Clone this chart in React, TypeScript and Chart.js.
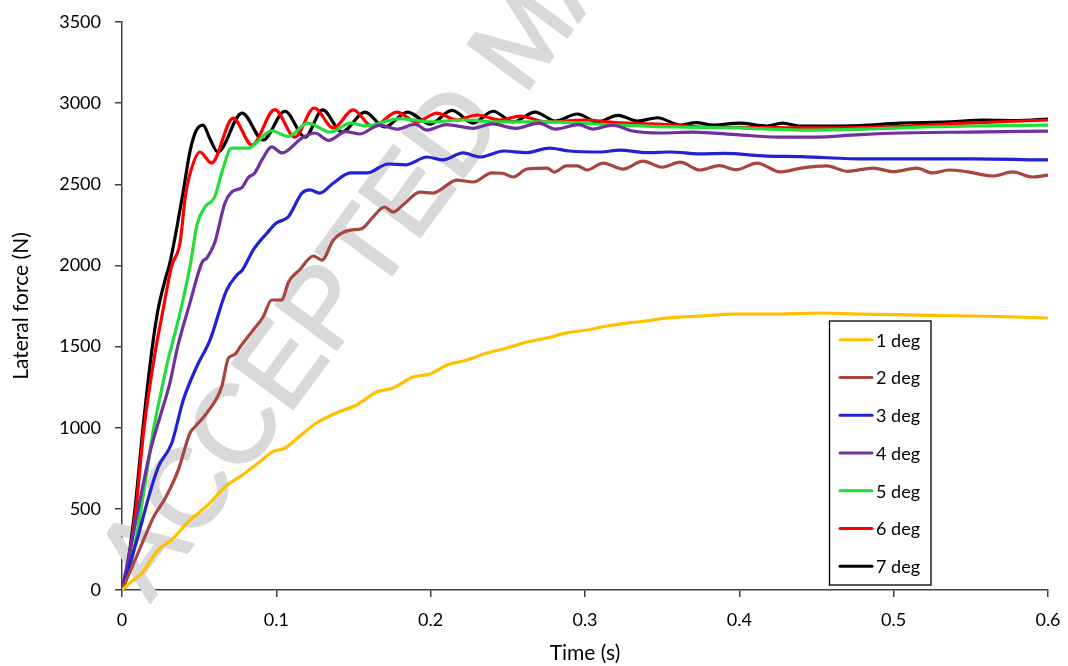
import React, { useEffect, useRef } from "react";
import { Chart, registerables } from "chart.js";

Chart.register(...registerables);

const seriesLabels = ["1 deg", "2 deg", "3 deg", "4 deg", "5 deg", "6 deg", "7 deg"];
const seriesColors = ["#FFC000", "#A9453F", "#2222D2", "#7030A0", "#22DD3A", "#FF0000", "#000000"];

const xTicks = [0, 0.1, 0.2, 0.3, 0.4, 0.5, 0.6];
const yTicks = [0, 500, 1000, 1500, 2000, 2500, 3000, 3500];

// 1 deg
const t1 = [0, 0.006, 0.013, 0.0233, 0.032, 0.0428, 0.0557, 0.0667, 0.078, 0.0907, 0.097, 0.1056, 0.1166, 0.126, 0.139, 0.152, 0.165, 0.1756, 0.1886, 0.1996, 0.2106, 0.2235, 0.2365, 0.2495, 0.2624, 0.2754, 0.288, 0.3013, 0.3143, 0.3272, 0.34, 0.353, 0.3745, 0.396, 0.42, 0.452, 0.48, 0.51, 0.538, 0.57, 0.6];
const f1 = [0, 50, 105, 246, 308, 419, 524, 635, 709, 801, 850, 875, 960, 1029, 1091, 1140, 1220, 1245, 1312, 1331, 1386, 1417, 1460, 1491, 1528, 1553, 1584, 1602, 1627, 1645, 1658, 1676, 1688, 1700, 1700, 1707, 1700, 1695, 1690, 1685, 1676];

// 2 deg
const t2 = [0, 0.0105, 0.0205, 0.028, 0.0365, 0.044, 0.0473, 0.055, 0.0646, 0.0689, 0.073, 0.0765, 0.085, 0.0914, 0.097, 0.1037, 0.1076, 0.1153, 0.124, 0.1296, 0.137, 0.148, 0.155, 0.1626, 0.17, 0.1756, 0.182, 0.193, 0.2015, 0.217, 0.2275, 0.2397, 0.2465, 0.2534, 0.2624, 0.2754, 0.28, 0.288, 0.295, 0.3013, 0.3117, 0.3246, 0.3376, 0.35, 0.3616, 0.3745, 0.387, 0.398, 0.4115, 0.4264, 0.44, 0.4568, 0.47, 0.4866, 0.5, 0.515, 0.525, 0.536, 0.547, 0.5644, 0.577, 0.59, 0.6];
const f2 = [0, 230, 450, 565, 740, 966, 1006, 1091, 1253, 1427, 1450, 1497, 1602, 1682, 1787, 1787, 1892, 1975, 2058, 2033, 2157, 2218, 2225, 2298, 2360, 2329, 2372, 2452, 2446, 2526, 2514, 2570, 2568, 2545, 2594, 2600, 2575, 2613, 2613, 2588, 2631, 2594, 2643, 2605, 2637, 2588, 2615, 2590, 2631, 2576, 2600, 2613, 2580, 2600, 2578, 2600, 2570, 2588, 2578, 2551, 2576, 2545, 2557];

// 3 deg
const t3 = [0, 0.0097, 0.018, 0.0236, 0.0322, 0.0397, 0.0484, 0.057, 0.0678, 0.0745, 0.078, 0.085, 0.094, 0.1, 0.1078, 0.1166, 0.1218, 0.128, 0.137, 0.148, 0.159, 0.1724, 0.184, 0.1976, 0.208, 0.221, 0.232, 0.2475, 0.262, 0.277, 0.29, 0.31, 0.3227, 0.34, 0.355, 0.3745, 0.39, 0.418, 0.44, 0.4827, 0.52, 0.55, 0.6];
const f3 = [0, 308, 597, 760, 904, 1171, 1376, 1540, 1848, 1941, 1972, 2095, 2200, 2261, 2300, 2446, 2465, 2446, 2508, 2570, 2570, 2625, 2620, 2668, 2650, 2693, 2668, 2705, 2695, 2723, 2705, 2699, 2711, 2695, 2699, 2687, 2690, 2674, 2670, 2656, 2656, 2656, 2650];

// 4 deg
const t4 = [0, 0.0117, 0.018, 0.0246, 0.031, 0.036, 0.044, 0.052, 0.055, 0.06, 0.0667, 0.071, 0.078, 0.0816, 0.086, 0.0907, 0.097, 0.1037, 0.1166, 0.125, 0.134, 0.145, 0.154, 0.167, 0.178, 0.19, 0.1976, 0.21, 0.2275, 0.24, 0.255, 0.27, 0.281, 0.296, 0.305, 0.318, 0.33, 0.35, 0.37, 0.4, 0.425, 0.45, 0.475, 0.504, 0.548, 0.6];
const f4 = [0, 555, 844, 1066, 1275, 1497, 1768, 2021, 2046, 2138, 2385, 2452, 2483, 2539, 2570, 2650, 2730, 2693, 2785, 2816, 2770, 2825, 2810, 2865, 2840, 2870, 2834, 2868, 2845, 2872, 2845, 2877, 2840, 2868, 2840, 2865, 2830, 2816, 2822, 2804, 2791, 2791, 2804, 2816, 2822, 2828];

// 5 deg
const t5 = [0, 0.004, 0.0097, 0.016, 0.02, 0.026, 0.0298, 0.032, 0.0376, 0.044, 0.0486, 0.0538, 0.06, 0.0646, 0.071, 0.0816, 0.097, 0.1076, 0.1205, 0.135, 0.148, 0.158, 0.18, 0.2, 0.22, 0.245, 0.275, 0.31, 0.36, 0.4, 0.44, 0.48, 0.52, 0.56, 0.6];
const f5 = [0, 100, 350, 720, 967, 1250, 1417, 1497, 1707, 1990, 2250, 2360, 2421, 2570, 2723, 2723, 2830, 2795, 2877, 2822, 2877, 2860, 2905, 2884, 2896, 2884, 2884, 2870, 2853, 2847, 2834, 2840, 2853, 2860, 2865];

// 6 deg
const t6 = [0, 0.004, 0.009, 0.0143, 0.0214, 0.0266, 0.032, 0.0376, 0.041, 0.0445, 0.0505, 0.058, 0.072, 0.0842, 0.099, 0.112, 0.1245, 0.137, 0.1497, 0.1626, 0.178, 0.191, 0.204, 0.217, 0.23, 0.245, 0.258, 0.275, 0.3, 0.32, 0.35, 0.375, 0.41, 0.44, 0.46, 0.5, 0.548, 0.6];
const f6 = [0, 150, 500, 1000, 1460, 1725, 1990, 2140, 2420, 2580, 2699, 2631, 2908, 2742, 2960, 2791, 2970, 2847, 2958, 2853, 2945, 2884, 2939, 2896, 2927, 2896, 2920, 2884, 2896, 2880, 2870, 2853, 2850, 2847, 2847, 2855, 2877, 2896];

// 7 deg
const t7 = [0, 0.003, 0.0084, 0.0136, 0.0194, 0.0233, 0.0279, 0.031, 0.0356, 0.0395, 0.044, 0.048, 0.0525, 0.057, 0.062, 0.0778, 0.0914, 0.1056, 0.1186, 0.13, 0.1425, 0.1575, 0.17, 0.185, 0.1996, 0.2138, 0.2275, 0.2404, 0.2534, 0.2676, 0.281, 0.295, 0.3078, 0.3214, 0.334, 0.347, 0.3616, 0.372, 0.383, 0.4, 0.418, 0.428, 0.439, 0.457, 0.478, 0.504, 0.536, 0.558, 0.58, 0.6];
const f7 = [0, 120, 500, 1000, 1480, 1725, 1910, 2015, 2237, 2446, 2700, 2830, 2865, 2780, 2699, 2939, 2773, 2950, 2791, 2958, 2822, 2945, 2853, 2945, 2871, 2955, 2877, 2950, 2884, 2945, 2890, 2933, 2884, 2925, 2890, 2910, 2865, 2880, 2865, 2877, 2859, 2877, 2859, 2859, 2862, 2877, 2884, 2896, 2893, 2902];

const seriesT = [t1, t2, t3, t4, t5, t6, t7];
const seriesF = [f1, f2, f3, f4, f5, f6, f7];

const FONT = "Lato";
const TEXT_COLOR = "#000000";
const AXIS_COLOR = "#404040";

const watermarkPlugin = {
  id: "watermark",
  beforeDatasetsDraw(chart: any) {
    const ctx = chart.ctx;
    ctx.save();
    ctx.translate(150, 603);
    ctx.rotate((-53.6 * Math.PI) / 180);
    ctx.font = '110px "Liberation Sans"';
    ctx.fillStyle = "#d9d9d9";
    ctx.strokeStyle = "#d9d9d9";
    ctx.lineWidth = 2.5;
    ctx.lineJoin = "round";
    ctx.textAlign = "left";
    ctx.textBaseline = "alphabetic";
    ctx.fillText("ACCEPTED MANUSCRIPT", 0, 0);
    ctx.strokeText("ACCEPTED MANUSCRIPT", 0, 0);
    ctx.restore();
  },
};

const boxLegendPlugin = {
  id: "boxLegend",
  afterDatasetsDraw(chart: any) {
    const ctx = chart.ctx;
    const left = 829.5;
    const top = 321;
    const right = 931;
    const bottom = 585;
    ctx.save();
    ctx.fillStyle = "#ffffff";
    ctx.fillRect(left, top, right - left, bottom - top);
    ctx.strokeStyle = "#000000";
    ctx.lineWidth = 1.3;
    ctx.strokeRect(left, top, right - left, bottom - top);
    const n = chart.data.datasets.length;
    const step = (bottom - top) / n;
    ctx.font = `18px ${FONT}`;
    ctx.textBaseline = "middle";
    ctx.textAlign = "left";
    chart.data.datasets.forEach((ds: any, i: number) => {
      const y = top + step * (i + 0.5);
      ctx.strokeStyle = ds.borderColor;
      ctx.lineWidth = 3;
      ctx.lineCap = "round";
      ctx.beginPath();
      ctx.moveTo(840, y);
      ctx.lineTo(872, y);
      ctx.stroke();
      ctx.fillStyle = TEXT_COLOR;
      ctx.fillText(ds.label, 876, y + 1);
    });
    ctx.restore();
  },
};

export default function App() {
  const canvasRef = useRef<HTMLCanvasElement | null>(null);

  useEffect(() => {
    document.body.style.margin = "0";
    const canvas = canvasRef.current;
    if (!canvas) return;
    const datasets = seriesLabels.map((label, i) => ({
      label,
      data: seriesT[i].map((t, j) => ({ x: t, y: seriesF[i][j] })),
      borderColor: seriesColors[i],
      backgroundColor: seriesColors[i],
      borderWidth: 3.2,
      pointRadius: 0,
      fill: false,
      cubicInterpolationMode: "monotone" as const,
    }));
    const chart = new Chart(canvas, {
      type: "line",
      data: { datasets },
      plugins: [watermarkPlugin, boxLegendPlugin],
      options: {
        animation: false,
        responsive: false,
        maintainAspectRatio: false,
        devicePixelRatio: 1,
        layout: { padding: { left: 0, right: 20, top: 22, bottom: 0 } },
        plugins: {
          legend: { display: false },
          tooltip: { enabled: false },
        },
        scales: {
          x: {
            type: "linear",
            min: xTicks[0],
            max: xTicks[xTicks.length - 1],
            afterBuildTicks: (scale: any) => {
              scale.ticks = xTicks.map((v) => ({ value: v }));
            },
            afterFit: (scale: any) => {
              scale.height = 76;
              scale.paddingRight = 0;
              scale.paddingLeft = 0;
            },
            ticks: {
              font: { family: FONT, size: 18 },
              color: TEXT_COLOR,
              padding: 12,
              maxRotation: 0,
              autoSkip: false,
              callback: (v: any) => String(Number(Number(v).toFixed(1))),
            },
            grid: {
              display: true,
              drawOnChartArea: false,
              drawTicks: true,
              tickLength: 7,
              color: AXIS_COLOR,
              lineWidth: 1.5,
            },
            border: { display: true, color: AXIS_COLOR, width: 1.5 },
            title: {
              display: true,
              text: "Time (s)",
              font: { family: FONT, size: 21 },
              color: TEXT_COLOR,
              padding: { top: 0, bottom: 0 },
            },
          },
          y: {
            type: "linear",
            min: yTicks[0],
            max: yTicks[yTicks.length - 1],
            afterBuildTicks: (scale: any) => {
              scale.ticks = yTicks.map((v) => ({ value: v }));
            },
            afterFit: (scale: any) => {
              scale.width = 122;
              scale.paddingTop = 0;
              scale.paddingBottom = 0;
            },
            ticks: {
              font: { family: FONT, size: 18 },
              color: TEXT_COLOR,
              padding: 14,
              autoSkip: false,
              callback: (v: any) => String(v),
            },
            grid: {
              display: true,
              drawOnChartArea: false,
              drawTicks: true,
              tickLength: 7,
              color: AXIS_COLOR,
              lineWidth: 1.5,
            },
            border: { display: true, color: AXIS_COLOR, width: 1.5 },
            title: {
              display: true,
              text: "Lateral force (N)",
              font: { family: FONT, size: 21 },
              color: TEXT_COLOR,
              padding: { top: 9, bottom: 0 },
            },
          },
        },
      },
    });
    return () => chart.destroy();
  }, []);

  return (
    <div style={{ width: 1068, height: 666, position: "relative", background: "#ffffff" }}>
      <canvas ref={canvasRef} width={1068} height={666} style={{ display: "block" }} />
    </div>
  );
}
